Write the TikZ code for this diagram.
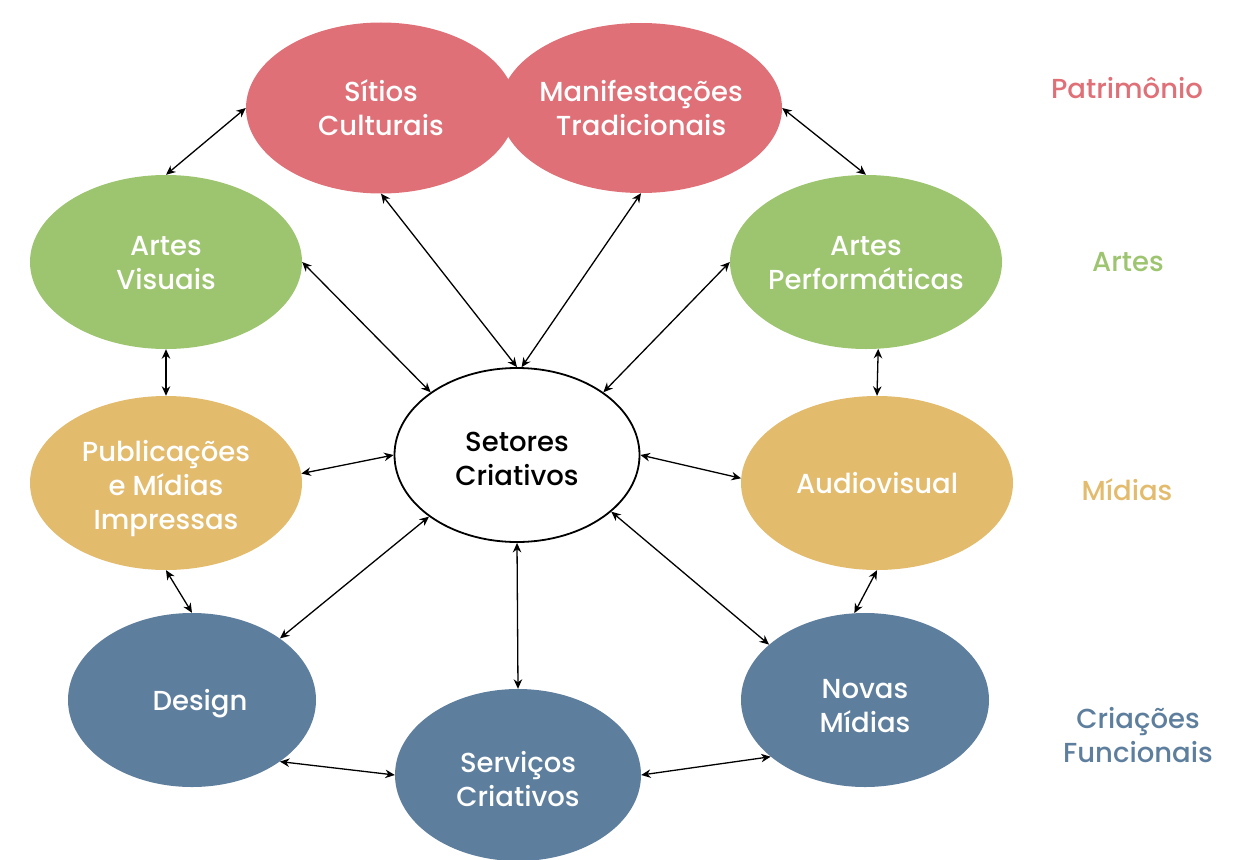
\documentclass[tikz,border=0pt]{standalone}
\usepackage{fontspec}
\setmainfont{Poppins}[BoldFont=Poppins Medium]
\usetikzlibrary{arrows.meta,shapes.geometric}
\definecolor{cred}{HTML}{DF7077}
\definecolor{cgreen}{HTML}{9DC46F}
\definecolor{cyellow}{HTML}{E3BB6D}
\definecolor{cblue}{HTML}{5D7E9D}
\tikzset{
  oval/.style={ellipse, inner sep=0pt, draw=none},
  otxt/.style={text=white, align=center, inner sep=0pt,
    font=\fontsize{27.5}{34}\selectfont\bfseries},
  ctxt/.style={text=black, align=center, inner sep=0pt,
    font=\fontsize{27.5}{34}\selectfont\bfseries},
  center/.style={ellipse, inner sep=0pt, draw=black, line width=1.8pt, fill=white},
  lab/.style={align=center, font=\fontsize{27.5}{34}\selectfont\bfseries},
  link/.style={{Stealth[length=9.5pt,width=8.5pt]}-{Stealth[length=9.5pt,width=8.5pt]}, line width=1.3pt}
}
\begin{document}
\begin{tikzpicture}[x=1pt,y=-1pt]
\useasboundingbox (0,0) rectangle (1249,859);
\node[oval, fill=cred, minimum width=270pt, minimum height=171pt,
  label={[otxt,yshift=0pt]center:{Sítios\\Culturais}}] (sit) at (381,108) {};
\node[oval, fill=cred, minimum width=282pt, minimum height=170pt,
  label={[otxt,yshift=0pt]center:{Manifestações\\Tradicionais}}] (man) at (641,108) {};
\node[oval, fill=cgreen, minimum width=272pt, minimum height=174pt,
  label={[otxt,yshift=-1pt]center:{Artes\\Visuais}}] (av) at (166,262) {};
\node[oval, fill=cgreen, minimum width=272pt, minimum height=174pt,
  label={[otxt,yshift=-1pt]center:{Artes\\Performáticas}}] (ap) at (866,262) {};
\node[oval, fill=cyellow, minimum width=272pt, minimum height=174pt,
  label={[otxt,yshift=-6pt]center:{Publicações\\e Mídias\\Impressas}}] (pub) at (166,483) {};
\node[oval, fill=cyellow, minimum width=272pt, minimum height=174pt,
  label={[otxt]center:{Audiovisual}}] (aud) at (877,483) {};
\node[oval, fill=cblue, minimum width=248pt, minimum height=174pt,
  label={[otxt,yshift=-4pt,xshift=8pt]center:{Design}}] (des) at (192,700) {};
\node[oval, fill=cblue, minimum width=246pt, minimum height=172pt,
  label={[otxt,yshift=-4pt]center:{Serviços\\Criativos}}] (ser) at (518,775) {};
\node[oval, fill=cblue, minimum width=248pt, minimum height=174pt,
  label={[otxt,yshift=-6pt]center:{Novas\\Mídias}}] (nm) at (865,700) {};
\node[center, minimum width=245pt, minimum height=174pt,
  label={[ctxt,yshift=-4pt]center:{Setores\\Criativos}}] (set) at (517,455) {};

\node[lab, text=cred] (l1) at (1127,88) {Patrimônio};
\node[lab, text=cgreen] (l2) at (1128,262) {Artes};
\node[lab, text=cyellow] (l3) at (1127,490) {Mídias};
\node[lab, text=cblue] (l4) at (1138,735) {Criações\\Funcionais};

\draw[link] (sit.west) -- (av.north);
\draw[link] (man.east) -- (ap.north);
\draw[link] (sit.south) -- (set.north);
\draw[link] (man.south) -- (set.87);
\draw[link] (av.east) -- (set.144);
\draw[link] (ap.west) -- (set.36);
\draw[link] (av.south) -- (pub.north);
\draw[link] (ap.278) -- (aud.north);
\draw[link] (pub.4) -- (set.west);
\draw[link] (set.east) -- (aud.178);
\draw[link] (pub.south) -- (des.north);
\draw[link] (aud.south) -- (nm.97);
\draw[link] (set.215) -- (des.35);
\draw[link] (set.south) -- (ser.north);
\draw[link] (set.329) -- (nm.150);
\draw[link] (des.325) -- (ser.west);
\draw[link] (ser.east) -- (nm.211);
\end{tikzpicture}
\end{document}
